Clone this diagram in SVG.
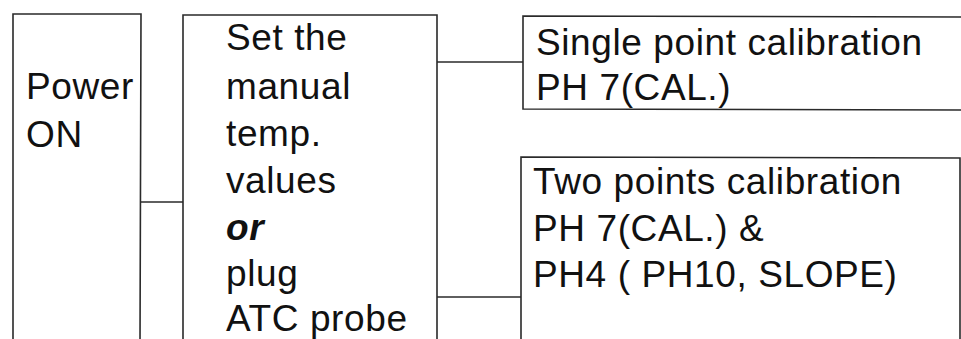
<svg xmlns="http://www.w3.org/2000/svg" width="961" height="339" viewBox="0 0 961 339">
<style>
.box{fill:none;stroke:#2a2a2a;stroke-width:1.6}
.conn{fill:none;stroke:#2a2a2a;stroke-width:1.4}
text{font-family:"Liberation Sans",Arial,sans-serif;font-size:37px;letter-spacing:0.6px;fill:#111}
.it{font-style:italic;font-weight:bold}
</style>
<rect width="961" height="339" fill="#fff"/>
<g id="connectors">
<line class="conn" x1="140" y1="202" x2="183" y2="202"/>
<line class="conn" x1="437" y1="62" x2="523" y2="62"/>
<line class="conn" x1="437" y1="297" x2="521" y2="297"/>
</g>
<g id="power">
<path class="box" d="M13,345 L13,14 L141,14 L140,345"/>
<text x="26" y="99">Power</text>
<text x="26" y="147">ON</text>
</g>
<g id="settemp">
<path class="box" d="M183,345 L183,15 L437,15 L437,345"/>
<text x="226" y="50">Set the</text>
<text x="226" y="99">manual</text>
<text x="226" y="146">temp.</text>
<text x="226" y="193">values</text>
<text x="226" y="240" class="it">or</text>
<text x="226" y="286">plug</text>
<text x="226" y="331">ATC probe</text>
</g>
<g id="single">
<path class="box" d="M965,17 L523,16 L523,109 L965,110"/>
<text x="536" y="55">Single point calibration</text>
<text x="536" y="100">PH 7(CAL.)</text>
</g>
<g id="two">
<path class="box" d="M521,345 L521,157 L960,158 L960,345"/>
<text x="533" y="194">Two points calibration</text>
<text x="533" y="241">PH 7(CAL.) &amp;</text>
<text x="533" y="287">PH4 ( PH10, SLOPE)</text>
</g>
</svg>
